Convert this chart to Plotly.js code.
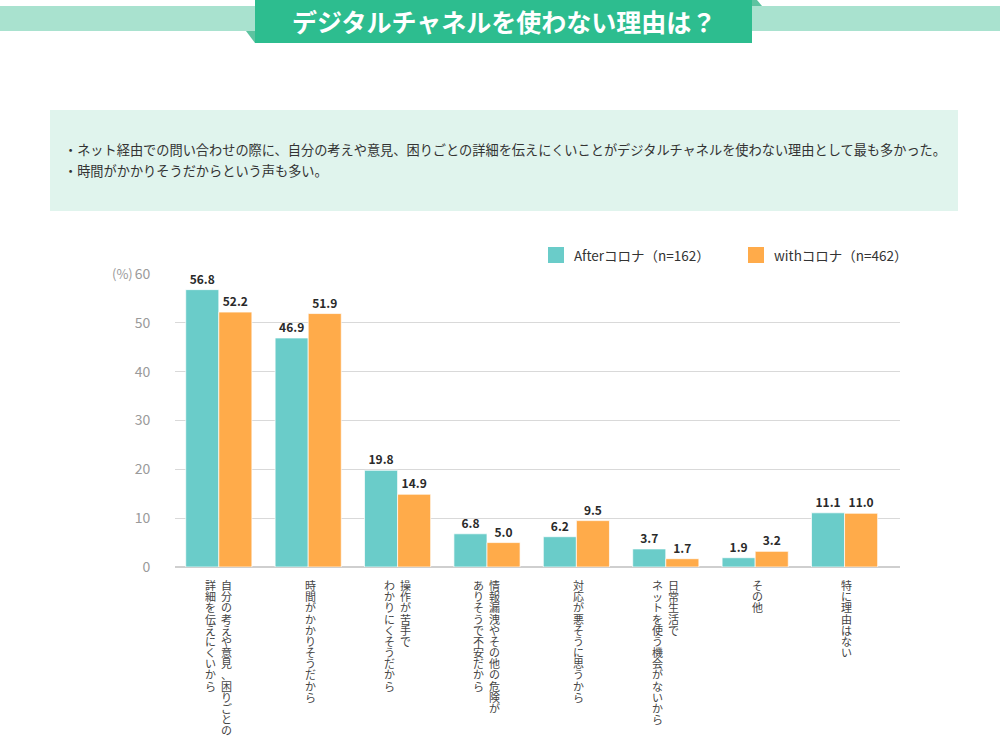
<!DOCTYPE html>
<html><head><meta charset="utf-8">
<script src="https://cdn.plot.ly/plotly-3.0.1.min.js"></script>
<style>html,body{margin:0;padding:0;background:#fff;overflow:hidden}#chart{width:1000px;height:750px}</style>
</head><body><div id="chart"></div>
<script>
// ---- data ----
const titleText = 'デジタルチャネルを使わない理由は？';
const summaryLines = [
  '・ネット経由での問い合わせの際に、自分の考えや意見、困りごとの詳細を伝えにくいことがデジタルチャネルを使わない理由として最も多かった。',
  '・時間がかかりそうだからという声も多い。'
];
const categories = [
  '自分の考えや意見、困りごとの\n詳細を伝えにくいから',
  '時間がかかりそうだから',
  '操作が苦手で\nわかりにくそうだから',
  '情報漏洩やその他の危険が\nありそうで不安だから',
  '対応が悪そうに思うから',
  '日常生活で\nネットを使う機会がないから',
  'その他',
  '特に理由はない'
];
const seriesNames = ['Afterコロナ（n=162）', 'withコロナ（n=462）'];
const afterValues = [56.8, 46.9, 19.8, 6.8, 6.2, 3.7, 1.9, 11.1];
const withValues  = [52.2, 51.9, 14.9, 5.0, 9.5, 1.7, 3.2, 11.0];
const yTicks = [0, 10, 20, 30, 40, 50, 60];
const yUnit = '(%)';
const colors = ['#6accc9', '#ffab4a'];

// ---- helpers (pixel -> paper, figure is 1000x750 with zero margins) ----
const W = 1000, H = 750;
const px = x => x / W;
const py = y => 1 - y / H;
const FONT = '"Noto Sans CJK JP", "Noto Sans", sans-serif';
const CHAR_OPEN = '<span style="font-size:11px">';
const CHAR_CLOSE = '</span>';

const traces = [afterValues, withValues].map((vals, i) => ({
  type: 'bar',
  name: seriesNames[i],
  x: categories,
  y: vals,
  marker: {color: colors[i], line: {color: 'rgba(255,255,255,0.7)', width: 1}},
  texttemplate: '%{y:.1f}',
  textposition: 'outside',
  cliponaxis: false,
  textfont: {family: FONT, size: 12, color: '#2a2a2a', weight: 'bold'},
  hoverinfo: 'x+y',
  showlegend: false
}));

const annotations = [];
annotations.push({xref: 'paper', yref: 'paper', x: px(504), y: py(21), text: '<b>' + titleText + '</b>',
  showarrow: false, xanchor: 'center', yanchor: 'middle', font: {family: FONT, size: 25, color: '#fff'}});
summaryLines.forEach((t, i) => annotations.push({xref: 'paper', yref: 'paper', x: px(62), y: py(150 + i * 20), text: t,
  showarrow: false, xanchor: 'left', yanchor: 'middle', font: {family: FONT, size: 13.2, color: '#333'}}));
annotations.push({xref: 'paper', yref: 'paper', x: px(135), y: py(274), text: yUnit, showarrow: false,
  xanchor: 'right', yanchor: 'middle', font: {family: FONT, size: 13, color: '#9a9a9a'}});
// legend (drawn manually to match the reference's larger swatches)
const legendX = [548, 748];
seriesNames.forEach((name, i) => annotations.push({xref: 'paper', yref: 'paper', x: px(legendX[i] + 24), y: py(255),
  text: name, showarrow: false, xanchor: 'left', yanchor: 'middle', font: {family: FONT, size: 13.5, color: '#333'}}));
// vertical category labels (tategaki): one annotation per column, one character per line
categories.forEach(cat => {
  const cols = cat.split('\n');
  const n = cols.length;
  cols.forEach((col, c) => {
    const off = n === 1 ? 2 : ((n - 1) / 2 - c) * 16 - 0.5;
    const parts = Array.from(col).map(ch => CHAR_OPEN.concat(ch, CHAR_CLOSE));
    annotations.push({xref: 'x', yref: 'paper', x: cat, xshift: off, y: py(575), text: parts.join('<br>'),
      showarrow: false, xanchor: 'center', yanchor: 'top', align: 'center',
      font: {family: FONT, size: 8.6, color: '#444'}});
  });
});

const shapes = [
  {type: 'rect', xref: 'paper', yref: 'paper', x0: 0, x1: 1, y0: py(6), y1: py(31), fillcolor: '#a9e2cf', line: {width: 0}, layer: 'below'},
  {type: 'path', xref: 'paper', yref: 'paper', layer: 'below',
    path: `M${px(246)},${py(31)} L${px(255)},${py(31)} L${px(255)},${py(43)} Z`, fillcolor: '#5cc3a0', line: {width: 0}},
  {type: 'path', xref: 'paper', yref: 'paper', layer: 'below',
    path: `M${px(752)},${py(0)} L${px(757)},${py(0)} L${px(762)},${py(6)} L${px(752)},${py(6)} Z`, fillcolor: '#5cc3a0', line: {width: 0}},
  {type: 'rect', xref: 'paper', yref: 'paper', x0: px(255), x1: px(752), y0: py(0), y1: py(43), fillcolor: '#2dbd8f', line: {width: 0}, layer: 'below'},
  {type: 'rect', xref: 'paper', yref: 'paper', x0: px(50), x1: px(958), y0: py(110), y1: py(211), fillcolor: '#e0f4ed', line: {width: 0}, layer: 'below'}
];
legendX.forEach((lx, i) => shapes.push({type: 'rect', xref: 'paper', yref: 'paper', x0: px(lx), x1: px(lx + 16),
  y0: py(247), y1: py(263), fillcolor: colors[i], line: {width: 0}}));

const layout = {
  width: W, height: H, autosize: false,
  margin: {l: 0, r: 0, t: 0, b: 0, pad: 0, autoexpand: false},
  paper_bgcolor: '#fff', plot_bgcolor: '#fff',
  font: {family: FONT, color: '#333'},
  barmode: 'group', bargap: 0.26, bargroupgap: 0,
  xaxis: {domain: [px(175), px(900)], range: [-0.49, 7.62], showticklabels: false, ticks: '',
    showgrid: false, zeroline: false, showline: false, fixedrange: true, automargin: false},
  yaxis: {domain: [py(567), py(274)], range: [0, 60], tickvals: yTicks, ticks: 'outside', ticklen: 21,
    tickcolor: 'rgba(0,0,0,0)', gridcolor: '#d9d9d9', gridwidth: 1, zeroline: true, zerolinecolor: '#cfcfcf',
    zerolinewidth: 1.5, showline: false, tickfont: {family: FONT, size: 14, color: '#9a9a9a'}, fixedrange: true, automargin: false},
  showlegend: false,
  annotations: annotations,
  shapes: shapes
};

Plotly.newPlot('chart', traces, layout, {displayModeBar: false, staticPlot: true, responsive: false});
</script>
</body></html>
